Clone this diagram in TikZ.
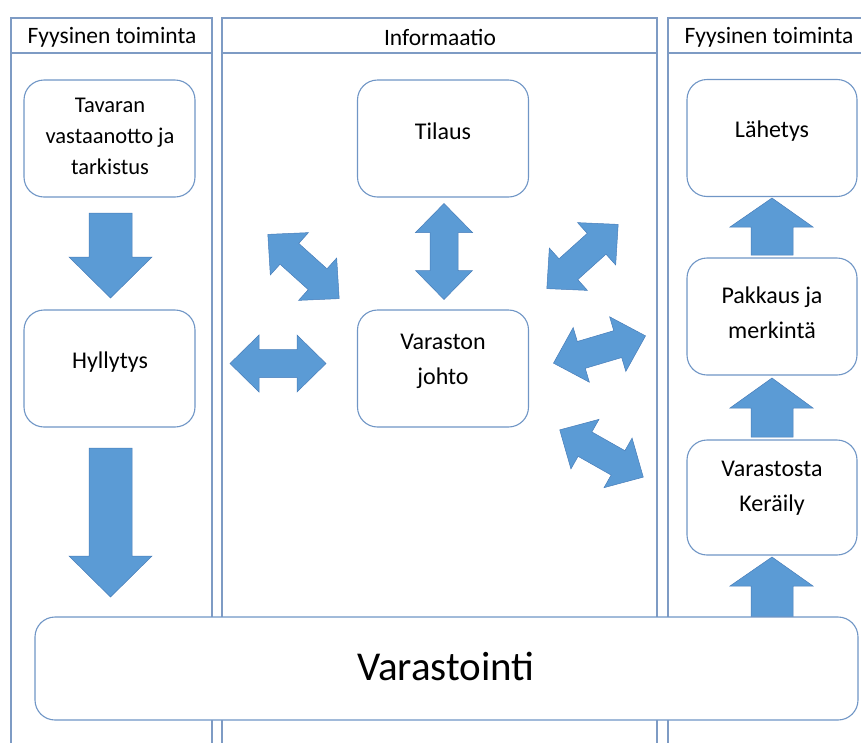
\documentclass[tikz,border=0pt]{standalone}
\usepackage{fontspec}
\setmainfont{Carlito}
\definecolor{lanec}{RGB}{126,155,196}
\definecolor{boxc}{RGB}{112,150,198}
\definecolor{arrfill}{RGB}{91,155,213}
\definecolor{arrline}{RGB}{72,125,185}
\begin{document}
\begin{tikzpicture}[x=1pt,y=-1pt,
  lane/.style={draw=lanec,line width=1.2pt},
  box/.style={draw=boxc,line width=1.1pt,rounded corners=20pt,fill=white,inner sep=0pt},
  lbl/.style={align=center,font=\fontsize{24}{35}\selectfont,inner sep=0pt},
  hdr/.style={font=\fontsize{23.5}{28}\selectfont,inner sep=0pt},
  arr/.style={fill=arrfill,draw=arrline,line width=0.5pt,line join=miter},
  pics/dblarrow/.style={code={
    \filldraw[arr] (-48,0) -- (-19,-28.5) -- (-19,-14) -- (19,-14) -- (19,-28.5)
      -- (48,0) -- (19,28.5) -- (19,14) -- (-19,14) -- (-19,28.5) -- cycle;}}
]
\useasboundingbox (0,0) rectangle (861,742);
\clip (0,0) rectangle (861,742);

% lanes
\draw[lane] (11,760) -- (11,18) -- (212,18) -- (212,760);
\draw[lane] (11,53) -- (212,53);
\draw[lane] (222,760) -- (222,18) -- (657,18) -- (657,760);
\draw[lane] (222,53) -- (657,53);
\draw[lane] (668,760) -- (668,18) -- (875,18) -- (875,760);
\draw[lane] (668,53) -- (875,53);
\node[hdr] (h1) at (112,37) {Fyysinen toiminta};
\node[hdr] (h2) at (440,37) {Informaatio};
\node[hdr] (h3) at (769,37) {Fyysinen toiminta};

% boxes
\node[box,minimum width=171pt,minimum height=117pt] (tav) at (109.5,138.5) {};
\node[lbl,font=\fontsize{22.5}{31}\selectfont] (tavt) at (110,136) {Tavaran\\vastaanotto ja\\tarkistus};
\node[box,minimum width=171pt,minimum height=117pt] (hyl) at (109.5,368.5) {};
\node[lbl] (hylt) at (110,362) {Hyllytys};
\node[box,minimum width=171pt,minimum height=117pt] (til) at (443,138.5) {};
\node[lbl] (tilt) at (443,131) {Tilaus};
\node[box,minimum width=171pt,minimum height=117pt] (joh) at (443,368.5) {};
\node[lbl] (joht) at (443,361) {Varaston\\johto};
\node[box,minimum width=170pt,minimum height=117pt] (lah) at (772,138) {};
\node[lbl] (laht) at (772,131) {Lähetys};
\node[box,minimum width=170pt,minimum height=117pt] (pak) at (772,316.5) {};
\node[lbl] (pakt) at (772,313) {Pakkaus ja\\merkintä};
\node[box,minimum width=170pt,minimum height=115pt] (ker) at (772,497.5) {};
\node[lbl] (kert) at (772,488) {Varastosta\\Keräily};

% single arrows
\filldraw[arr] (89,213) -- (132,213) -- (132,257) -- (152,257) -- (110.5,298) -- (69,257) -- (89,257) -- cycle;
\filldraw[arr] (89,448) -- (132,448) -- (132,556) -- (152,556) -- (110.5,597) -- (69,556) -- (89,556) -- cycle;
\filldraw[arr] (751,255) -- (793,255) -- (793,227) -- (813,227) -- (772,198) -- (730,227) -- (751,227) -- cycle;
\filldraw[arr] (751,437) -- (793,437) -- (793,408) -- (813,408) -- (772,378) -- (730,408) -- (751,408) -- cycle;
\filldraw[arr] (751,617) -- (793,617) -- (793,586) -- (813,586) -- (772,557) -- (730,586) -- (751,586) -- cycle;

% double arrows
\pic[rotate=90] at (444,251.5) {dblarrow};
\pic at (278,363.5) {dblarrow};
\pic[rotate=-42] at (303.5,266.5) {dblarrow};
\pic[rotate=42] at (582.5,256.5) {dblarrow};
\pic[rotate=16.5] at (599.5,349.5) {dblarrow};
\pic[rotate=-29.5] at (601.5,453.5) {dblarrow};

% big box
\node[box,minimum width=823pt,minimum height=103pt] (var) at (446.5,668.5) {};
\node[lbl,font=\fontsize{41}{48}\selectfont] (vart) at (446,666) {Varastointi};
\end{tikzpicture}
\end{document}
